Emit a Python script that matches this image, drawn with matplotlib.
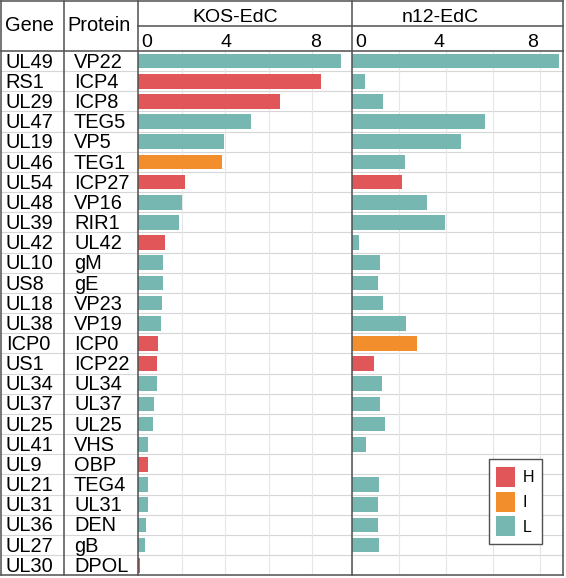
#!/usr/bin/env python3
"""
Bảng + biểu đồ thanh: mức độ biểu hiện protein HSV ở KOS-EdC và n12-EdC
"""

import matplotlib.pyplot as plt
import matplotlib.transforms as mtransforms
from matplotlib.patches import Patch

plt.rcParams['font.family'] = ['Liberation Sans', 'DejaVu Sans']

# Dữ liệu
genes = ['UL49', 'RS1', 'UL29', 'UL47', 'UL19', 'UL46', 'UL54', 'UL48', 'UL39',
         'UL42', 'UL10', 'US8', 'UL18', 'UL38', 'ICP0', 'US1', 'UL34', 'UL37',
         'UL25', 'UL41', 'UL9', 'UL21', 'UL31', 'UL36', 'UL27', 'UL30']
proteins = ['VP22', 'ICP4', 'ICP8', 'TEG5', 'VP5', 'TEG1', 'ICP27', 'VP16', 'RIR1',
            'UL42', 'gM', 'gE', 'VP23', 'VP19', 'ICP0', 'ICP22', 'UL34', 'UL37',
            'UL25', 'VHS', 'OBP', 'TEG4', 'UL31', 'DEN', 'gB', 'DPOL']
kos_vals = [9.35, 8.40, 6.51, 5.21, 3.95, 3.87, 2.17, 2.03, 1.86, 1.24, 1.12, 1.12,
            1.09, 1.05, 0.92, 0.88, 0.88, 0.71, 0.66, 0.46, 0.46, 0.46, 0.46, 0.37,
            0.31, 0.06]
kos_class = ['L', 'H', 'H', 'L', 'L', 'I', 'H', 'L', 'L', 'H', 'L', 'L', 'L',
             'L', 'H', 'H', 'L', 'L', 'L', 'L', 'H', 'L', 'L', 'L', 'L', 'H']
n12_vals = [8.81, 0.59, 1.34, 5.65, 4.63, 2.25, 2.14, 3.22, 3.97, 0.31, 1.21, 1.11,
            1.34, 2.31, 2.77, 0.96, 1.31, 1.21, 1.44, 0.62, 0.0, 1.16, 1.13, 1.13,
            1.16, 0.0]
n12_class = ['L', 'L', 'L', 'L', 'L', 'L', 'H', 'L', 'L', 'L', 'L', 'L', 'L',
             'L', 'I', 'H', 'L', 'L', 'L', 'L', 'L', 'L', 'L', 'L', 'L', 'L']
panel_titles = ['KOS-EdC', 'n12-EdC']
class_colors = {'H': '#E15759', 'I': '#F28E2B', 'L': '#76B7B2'}

W, H = 566, 578
dark = '#505050'

# Cột của bảng (pixel)
x_left, x_gene, x_prot, x_mid, x_right = 0.7, 64, 138.3, 351.5, 563.3
y_top, y_title, y_head, y_bot = 1, 26, 51, 575.3
n = len(genes)
row_h = (y_bot - y_head) / n

fig = plt.figure(figsize=(W / 100, H / 100), dpi=100)

# Lớp nền: đường kẻ hàng + chữ
bg = fig.add_axes([0, 0, 1, 1], zorder=0)
bg.set_xlim(0, W)
bg.set_ylim(H, 0)
bg.axis('off')
for k in range(1, n):
    y = y_head + k * row_h
    bg.plot([x_left, x_right], [y, y], color='#d6d6d6', lw=0.8)

bg.text(4.7, 30.7, 'Gene', fontsize=14.4, va='baseline')
bg.text(67.7, 30.7, 'Protein', fontsize=14.4, va='baseline')
for i, (g, p) in enumerate(zip(genes, proteins)):
    yb = y_head + (i + 0.5) * row_h + 6.6
    bg.text(5.7, yb, g, fontsize=14.4, va='baseline')
    bg.text(74, yb, p, fontsize=14.4, va='baseline')

bg.text(235.4, 21.7, panel_titles[0], fontsize=14, ha='center', va='baseline')
bg.text(440, 21.7, panel_titles[1], fontsize=14, ha='center', va='baseline')

# Hai biểu đồ thanh
def panel(x0, x1, vals, classes, xmax, label_shift):
    ax = fig.add_axes([x0 / W, (H - y_bot) / H, (x1 - x0) / W, (y_bot - y_head) / H],
                      zorder=1)
    ax.set_facecolor('none')
    ax.barh(range(n), vals, height=0.73,
            color=[class_colors[c] for c in classes])
    ax.set_xlim(0, xmax)
    ax.set_ylim(n - 0.5, -0.5)
    ax.set_yticks([])
    ax.set_xticks([0, 4, 8])
    ax.set_xticks([2, 6], minor=True)
    ax.grid(True, which='both', axis='x', color='#e6e6e6', lw=0.8)
    ax.set_axisbelow(True)
    ax.tick_params(axis='x', which='both', length=0, top=True, bottom=False,
                   labeltop=True, labelbottom=False, pad=0, labelsize=14)
    ticks = ax.xaxis.get_major_ticks()
    ticks[0].label2.set_horizontalalignment('left')
    # nhãn tick lệch nhẹ so với đường lưới như hình gốc
    for t, dx in zip(ticks, label_shift):
        off = mtransforms.ScaledTranslation(dx / 100, 0, fig.dpi_scale_trans)
        t.label2.set_transform(t.label2.get_transform() + off)
    for s in ax.spines.values():
        s.set_visible(False)
    return ax

ax_kos = panel(x_prot, x_mid, kos_vals, kos_class, (x_mid - x_prot) / 21.7, [3, 1, 4])
ax_n12 = panel(x_mid, x_right, n12_vals, n12_class, (x_right - x_mid) / 23.6, [4, -7, -8])

handles = [Patch(facecolor=c, label=k) for k, c in class_colors.items()]
leg = ax_n12.legend(handles=handles, loc='lower right', bbox_to_anchor=(0.901, 0.059),
                    borderaxespad=0, frameon=True, fancybox=False, framealpha=1,
                    edgecolor=dark, fontsize=11.5, handlelength=1.15, handleheight=1.55,
                    borderpad=0.5, labelspacing=0.3, handletextpad=0.5)
leg.get_frame().set_linewidth(1.0)

# Lớp trên: khung bảng
fg = fig.add_axes([0, 0, 1, 1], zorder=2)
fg.set_facecolor('none')
fg.set_xlim(0, W)
fg.set_ylim(H, 0)
fg.axis('off')
for x in [x_left, x_gene, x_prot, x_mid, x_right]:
    fg.plot([x, x], [y_top, y_bot], color=dark, lw=1.1, clip_on=False)
for y in [y_top, y_head, y_bot]:
    fg.plot([x_left, x_right], [y, y], color=dark, lw=1.1, clip_on=False)
fg.plot([x_prot, x_right], [y_title, y_title], color=dark, lw=1.1)

fig.savefig('out.png', dpi=100, facecolor='white')
